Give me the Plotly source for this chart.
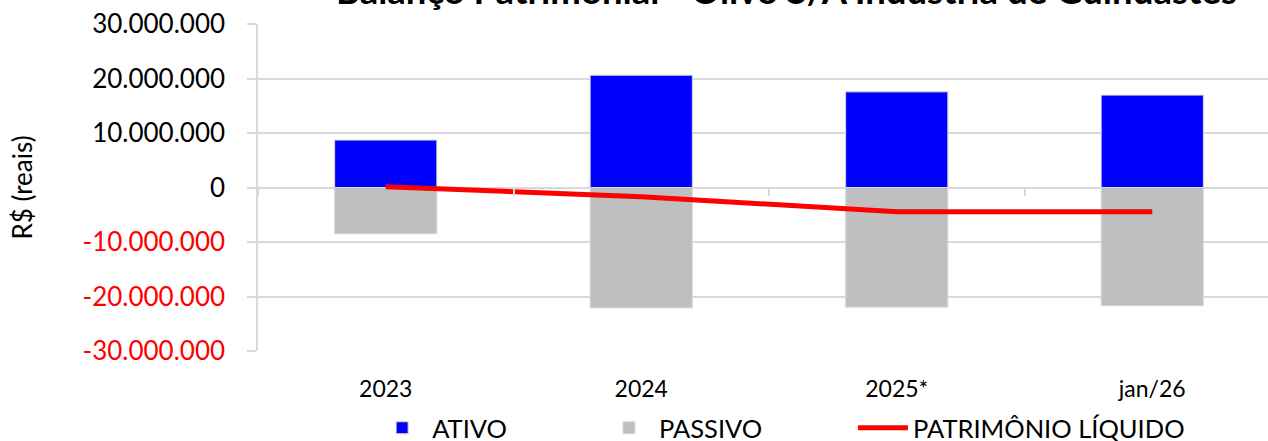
import plotly.graph_objects as go

categories = ["2023", "2024", "2025*", "jan/26"]
ativo = [8_700_000, 20_600_000, 17_550_000, 16_950_000]
passivo = [-8_500_000, -22_100_000, -21_950_000, -21_700_000]
patrimonio = [150_000, -1_700_000, -4_430_000, -4_430_000]

y_tickvals = [30_000_000, 20_000_000, 10_000_000, 0, -10_000_000, -20_000_000, -30_000_000]
y_ticktext = ["30.000.000", "20.000.000", "10.000.000", "0",
              "<span style='color:#ff0000'>-10.000.000</span>",
              "<span style='color:#ff0000'>-20.000.000</span>",
              "<span style='color:#ff0000'>-30.000.000</span>"]
title_text = "Balanço Patrimonial - Olivo S/A Indústria de Guindastes"

FONT = "Lato"
GRID = "#d9d9d9"
xrange = [-0.5, 3.453]

fig = go.Figure()
fig.add_trace(go.Bar(x=categories, y=ativo, name="ATIVO", width=0.4, legend="legend",
                     marker=dict(color="#0000ff", line=dict(color=GRID, width=1))))
fig.add_trace(go.Bar(x=categories, y=passivo, name="PASSIVO", width=0.4, legend="legend2",
                     marker=dict(color="#bfbfbf", line=dict(color=GRID, width=1))))
fig.add_trace(go.Scatter(x=categories, y=patrimonio, name="PATRIMÔNIO LÍQUIDO",
                         mode="lines", line=dict(color="#ff0000", width=5),
                         xaxis="x2", yaxis="y", legend="legend3"))

fig.add_annotation(text="<b>" + title_text + "</b>", xref="paper", yref="paper",
                   x=0.523, y=1.032, xanchor="center", yanchor="bottom",
                   showarrow=False, font=dict(family=FONT, size=36.5, color="black"))

leg_common = dict(orientation="h", xanchor="left", y=-0.236, yanchor="middle",
                  font=dict(size=25.5), itemwidth=50, bgcolor="rgba(0,0,0,0)")

fig.update_layout(
    width=1268, height=441,
    margin=dict(l=258, r=0, t=24, b=90, autoexpand=False),
    barmode="relative",
    plot_bgcolor="white", paper_bgcolor="white",
    font=dict(family=FONT, color="black", size=24),
    xaxis=dict(type="category", categoryarray=categories, range=xrange,
               showline=False, showgrid=False, zeroline=False, ticks="",
               ticklabelstandoff=22, tickfont=dict(size=23), automargin=False),
    xaxis2=dict(type="category", categoryarray=categories, range=xrange,
                overlaying="x", anchor="free", position=0.5,
                tickson="boundaries", ticks="outside", ticklen=7, tickwidth=1.5,
                tickcolor=GRID, showticklabels=False, showline=False,
                showgrid=False, zeroline=False, automargin=False),
    yaxis=dict(range=[-30_000_000, 30_000_000], tickvals=y_tickvals, ticktext=y_ticktext,
               showgrid=True, gridcolor=GRID, gridwidth=1.5, zeroline=False,
               showline=True, linecolor=GRID, linewidth=1.5,
               ticks="outside", ticklen=9, tickwidth=1.5, tickcolor=GRID,
               ticklabelstandoff=17, ticklabeloverflow="allow",
               tickfont=dict(size=26), automargin=False,
               title=dict(text="R$ (reais)", font=dict(size=26), standoff=42)),
    legend=dict(x=0.113, **leg_common),
    legend2=dict(x=0.3376, **leg_common),
    legend3=dict(x=0.589, **leg_common),
    showlegend=True,
)

fig.write_html("out.html", config={"displayModeBar": False},
               post_script="document.body.style.margin='0';")
